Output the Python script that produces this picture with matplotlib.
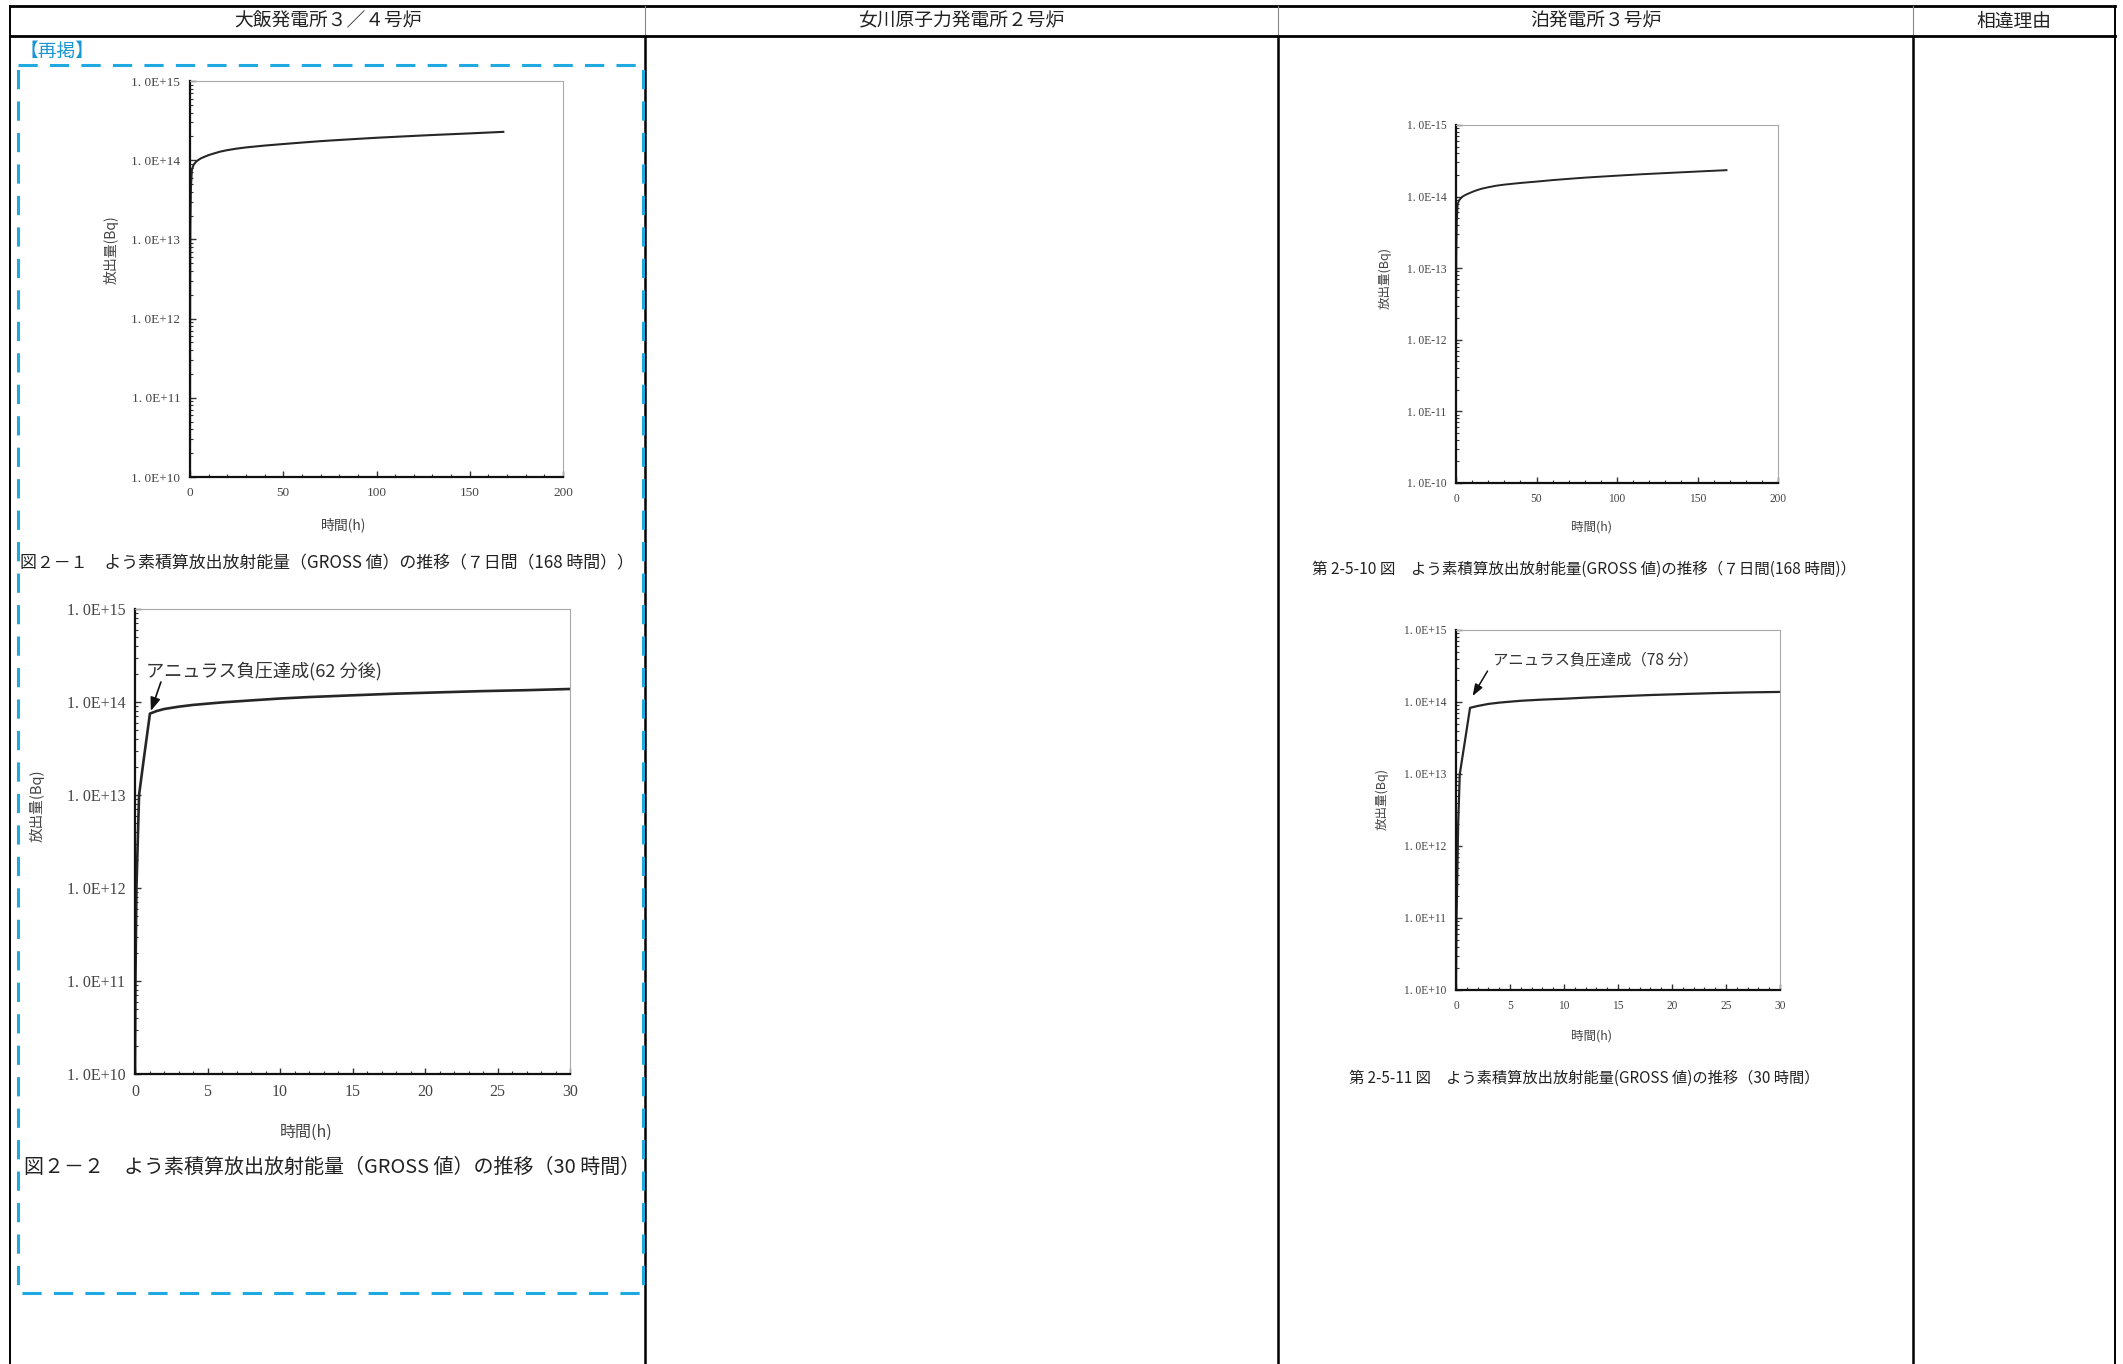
import matplotlib.pyplot as plt
from matplotlib.ticker import FixedLocator, MultipleLocator, LogLocator, NullFormatter

plt.rcParams['font.family'] = ['Noto Sans CJK JP', 'DejaVu Sans']

W, H = 2123, 1364

# column headers of the comparison table
headers = ['大飯発電所３／４号炉', '女川原子力発電所２号炉', '泊発電所３号炉', '相違理由']

# Ohi 3/4: iodine cumulative release, 7 days (168 h)
ohi7_t = [0, 0.05, 0.2, 0.5, 1, 1.5, 2, 3, 4, 6, 8, 10, 13, 16, 20, 25, 30,
          40, 50, 60, 70, 80, 90, 100, 115, 130, 150, 168]
ohi7_q = [1e10, 1e12, 1.5e13, 4.5e13, 7.5e13, 8.2e13, 8.8e13, 9.4e13, 9.9e13,
          1.06e14, 1.11e14, 1.16e14, 1.22e14, 1.28e14, 1.34e14, 1.40e14, 1.45e14,
          1.53e14, 1.60e14, 1.67e14, 1.74e14, 1.80e14, 1.86e14, 1.92e14, 2.00e14,
          2.08e14, 2.18e14, 2.28e14]

# Ohi 3/4: 30 h
ohi30_t = [0, 0.03, 0.1, 0.28, 0.6, 1.03, 1.5, 2, 3, 4, 5, 6, 8, 10, 12, 15,
           18, 21, 24, 27, 30]
ohi30_q = [1e10, 1e11, 1e12, 1e13, 2.4e13, 7.5e13, 8.0e13, 8.4e13, 8.9e13,
           9.3e13, 9.6e13, 9.9e13, 1.04e14, 1.09e14, 1.13e14, 1.18e14, 1.23e14,
           1.27e14, 1.31e14, 1.34e14, 1.38e14]

# Tomari 3: 7 days (168 h)
tom7_t = [0, 0.05, 0.2, 0.5, 1, 1.5, 2, 3, 4, 6, 8, 10, 13, 16, 20, 25, 30,
          40, 50, 60, 70, 80, 90, 100, 115, 130, 150, 168]
tom7_q = [1e10, 1e12, 1.5e13, 4.5e13, 7.8e13, 8.4e13, 8.9e13, 9.5e13, 1.0e14,
          1.06e14, 1.11e14, 1.16e14, 1.23e14, 1.29e14, 1.35e14, 1.42e14, 1.47e14,
          1.55e14, 1.62e14, 1.70e14, 1.77e14, 1.84e14, 1.90e14, 1.96e14, 2.05e14,
          2.13e14, 2.24e14, 2.34e14]

# Tomari 3: 30 h
tom30_t = [0, 0.05, 0.2, 0.35, 0.8, 1.3, 2, 3, 4, 5, 6, 8, 10, 12, 15, 18, 21,
           24, 27, 30]
tom30_q = [1e10, 1e11, 2e12, 1e13, 2.7e13, 8.3e13, 8.8e13, 9.4e13, 9.8e13,
           1.01e14, 1.04e14, 1.08e14, 1.11e14, 1.15e14, 1.20e14, 1.25e14, 1.29e14,
           1.33e14, 1.36e14, 1.38e14]

decades = [1e10, 1e11, 1e12, 1e13, 1e14, 1e15]
plus_labels = ['1. 0E+10', '1. 0E+11', '1. 0E+12', '1. 0E+13', '1. 0E+14', '1. 0E+15']
minus_labels = ['1. 0E-10', '1. 0E-11', '1. 0E-12', '1. 0E-13', '1. 0E-14', '1. 0E-15']

fig = plt.figure(figsize=(W / 100, H / 100), dpi=100)
page = fig.add_axes([0, 0, 1, 1])
page.set_xlim(0, W)
page.set_ylim(H, 0)
page.axis('off')

# table frame
cols = [10, 645, 1278, 1913, 2115]
page.plot([10, 2115], [6, 6], color='black', lw=2)
page.plot([10, 2115], [36, 36], color='black', lw=2)
for i, x in enumerate(cols):
    outer = i in (0, len(cols) - 1)
    page.plot([x, x], [6, 36], color='black' if outer else '#888888', lw=1.4 if outer else 0.8)
    page.plot([x, x], [36, H], color='black', lw=1.4 if outer else 1.8)
for i, h in enumerate(headers):
    page.text((cols[i] + cols[i + 1]) / 2, 21, h, ha='center', va='center',
              fontsize=13.5, color='#222222')

# blue dashed "re-posted" box
page.plot([18, 643, 643, 18, 18], [65, 65, 1293, 1293, 65], color='#1eaae0',
          lw=2.2, linestyle=(0, (6.3, 4.0)), solid_capstyle='butt')
page.text(20, 51, '【再掲】', ha='left', va='center', fontsize=13.5, color='#1a96d4')


def chart(box, t, q, xmax, xmajor, xminor, ylabels, tick_fs, lw):
    l, top, r, b = box
    ax = fig.add_axes([l / W, 1 - b / H, (r - l) / W, (b - top) / H])
    ax.plot(t, q, color='#262626', lw=lw)
    ax.set_yscale('log')
    ax.set_ylim(1e10, 1e15)
    ax.set_xlim(0, xmax)
    ax.yaxis.set_major_locator(FixedLocator(decades))
    ax.set_yticklabels(ylabels)
    ax.yaxis.set_minor_locator(LogLocator(base=10, subs=[2, 3, 4, 5, 6, 7, 8, 9]))
    ax.yaxis.set_minor_formatter(NullFormatter())
    ax.xaxis.set_major_locator(MultipleLocator(xmajor))
    ax.xaxis.set_minor_locator(MultipleLocator(xminor))
    ax.tick_params(which='both', direction='in', colors='#333333', labelcolor='#444444',
                   labelsize=tick_fs, pad=7)
    ax.tick_params(which='major', length=4, width=1)
    ax.tick_params(which='minor', length=2.5, width=0.8)
    for lab in ax.get_xticklabels() + ax.get_yticklabels():
        lab.set_fontfamily('Liberation Serif')
    for s in ['left', 'bottom']:
        ax.spines[s].set_linewidth(1.6)
        ax.spines[s].set_color('#111111')
    for s in ['top', 'right']:
        ax.spines[s].set_linewidth(0.8)
        ax.spines[s].set_color('#aaaaaa')
    return ax


# Ohi 7 days
chart((190, 81, 563, 477), ohi7_t, ohi7_q, 200, 50, 10, plus_labels, 9.5, 1.5)
page.text(344, 525, '時間(h)', ha='center', va='center', fontsize=10, color='#444444')
page.text(111, 250, '放出量(Bq)', ha='center', va='center', rotation=90, fontsize=10, color='#444444')
page.text(20, 563, '図２－１　よう素積算放出放射能量（GROSS 値）の推移（７日間（168 時間））',
          ha='left', va='center', fontsize=12.2, color='#222222')

# Ohi 30 h
ax2 = chart((135, 609, 570, 1074), ohi30_t, ohi30_q, 30, 5, 1, plus_labels, 11.5, 1.9)
ax2.annotate('', xy=(1.03, 7.5e13), xytext=(1.85, 1.75e14),
             arrowprops=dict(arrowstyle='-|>,head_length=0.8,head_width=0.3', color='#111111', lw=1.2))
ax2.text(0.75, 2.15e14, 'アニュラス負圧達成(62 分後)', ha='left', va='center', fontsize=13.1, color='#333333')
page.text(306, 1132, '時間(h)', ha='center', va='center', fontsize=11.5, color='#444444')
page.text(37, 806, '放出量(Bq)', ha='center', va='center', rotation=90, fontsize=10.5, color='#444444')
page.text(24, 1167, '図２－２　よう素積算放出放射能量（GROSS 値）の推移（30 時間）',
          ha='left', va='center', fontsize=14.4, color='#222222')

# Tomari 7 days
chart((1456, 125, 1778, 483), tom7_t, tom7_q, 200, 50, 10, minus_labels, 8.3, 1.4)
page.text(1591, 527, '時間(h)', ha='center', va='center', fontsize=9, color='#444444')
page.text(1385, 278, '放出量(Bq)', ha='center', va='center', rotation=90, fontsize=9, color='#444444')
page.text(1584, 569, '第 2-5-10 図　よう素積算放出放射能量(GROSS 値)の推移（７日間(168 時間)）',
          ha='center', va='center', fontsize=11.2, color='#222222')

# Tomari 30 h
ax4 = chart((1456, 630, 1780, 990), tom30_t, tom30_q, 30, 5, 1, plus_labels, 8.3, 1.6)
ax4.annotate('', xy=(1.4, 1.12e14), xytext=(3.05, 2.9e14),
             arrowprops=dict(arrowstyle='-|>,head_length=0.7,head_width=0.25', color='#111111', lw=1.1))
ax4.text(3.4, 3.9e14, 'アニュラス負圧達成（78 分）', ha='left', va='center', fontsize=11.1, color='#333333')
page.text(1591, 1036, '時間(h)', ha='center', va='center', fontsize=9, color='#444444')
page.text(1382, 799, '放出量(Bq)', ha='center', va='center', rotation=90, fontsize=9, color='#444444')
page.text(1584, 1078, '第 2-5-11 図　よう素積算放出放射能量(GROSS 値)の推移（30 時間）',
          ha='center', va='center', fontsize=11, color='#222222')

fig.savefig('out.png', dpi=100)
